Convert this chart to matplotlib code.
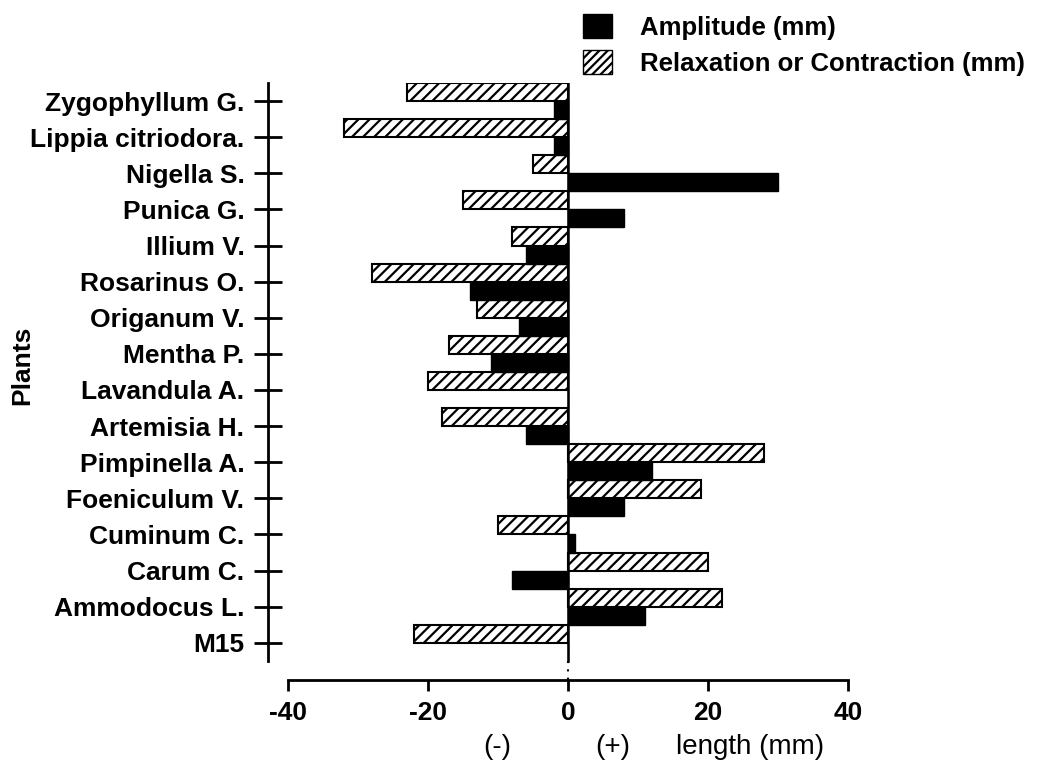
import numpy as np
import matplotlib.pyplot as plt
from matplotlib.patches import Patch

plt.rcParams['font.family'] = ['Liberation Sans', 'DejaVu Sans']
plt.rcParams['hatch.linewidth'] = 1.6

# data (top to bottom)
plants = ['Zygophyllum G.', 'Lippia citriodora.', 'Nigella S.', 'Punica G.', 'Illium V.',
          'Rosarinus O.', 'Origanum V.', 'Mentha P.', 'Lavandula A.', 'Artemisia H.',
          'Pimpinella A.', 'Foeniculum V.', 'Cuminum C.', 'Carum C.', 'Ammodocus L.', 'M15']
relaxation = [-23, -32, -5, -15, -8, -28, -13, -17, -20, -18, 28, 19, -10, 20, 22, -22]
amplitude = [-2, -2, 30, 8, -6, -14, -7, -11, 0, -6, 12, 8, 1, -8, 11, 0]
xticks = [-40, -20, 0, 20, 40]

W, H = 1037, 762
fig = plt.figure(figsize=(W / 100, H / 100), dpi=100)
ax = fig.add_axes([288 / W, 1 - 680 / H, (848 - 288) / W, (680 - 83) / H])

# spines first (set_position resets tick settings)
for s in ['top', 'right']:
    ax.spines[s].set_visible(False)
ax.spines['left'].set_position(('outward', 14.4))
ax.spines['left'].set_linewidth(2)
ax.spines['bottom'].set_linewidth(2)

y = np.arange(len(plants))
ax.barh(y - 0.25, relaxation, height=0.5, color='white', edgecolor='black',
        hatch='///', linewidth=1.5, zorder=2)
ax.barh(y + 0.25, amplitude, height=0.5, color='black', edgecolor='black',
        linewidth=1.0, zorder=3)

ax.plot([0, 0], [-0.5, 15.5], color='black', lw=1.8, zorder=4)
ax.plot([0, 0], [15.5, 16.03], color='black', lw=1.5, ls=(0, (1, 3)), zorder=4)

ax.set_xlim(-40, 40)
ax.set_ylim(16.03, -0.5)
ax.spines['left'].set_bounds(-0.5, 15.5)
ax.set_yticks(y)
ax.set_yticklabels(plants)
ax.set_xticks(xticks)
ax.set_xticklabels([str(v) for v in xticks])
ax.tick_params(axis='y', direction='inout', length=20, width=2, pad=7, labelsize=19)
ax.tick_params(axis='x', direction='out', length=8, width=2, pad=7, labelsize=19)
for lab in ax.get_xticklabels() + ax.get_yticklabels():
    lab.set_fontweight('bold')

fig.text(22 / W, 1 - 365 / H, 'Plants', rotation=90, fontsize=19, fontweight='bold',
         ha='center', va='center')

xl_y = 1 - 747 / H
fig.text(497 / W, xl_y, '(-)', fontsize=20, ha='center', va='center')
fig.text(613 / W, xl_y, '(+)', fontsize=20, ha='center', va='center')
fig.text(750 / W, xl_y, 'length (mm)', fontsize=20, ha='center', va='center')

handles = [Patch(facecolor='black', edgecolor='black'),
           Patch(facecolor='white', edgecolor='black', hatch='////')]
fig.legend(handles, ['Amplitude (mm)', 'Relaxation or Contraction (mm)'],
           loc='upper left', bbox_to_anchor=(560 / W, 1 + 9 / H), frameon=False,
           prop={'size': 18.5, 'weight': 'bold'}, handlelength=1.13, handleheight=1.05,
           handletextpad=1.1, labelspacing=0.4)

fig.savefig('out.png', dpi=100)
